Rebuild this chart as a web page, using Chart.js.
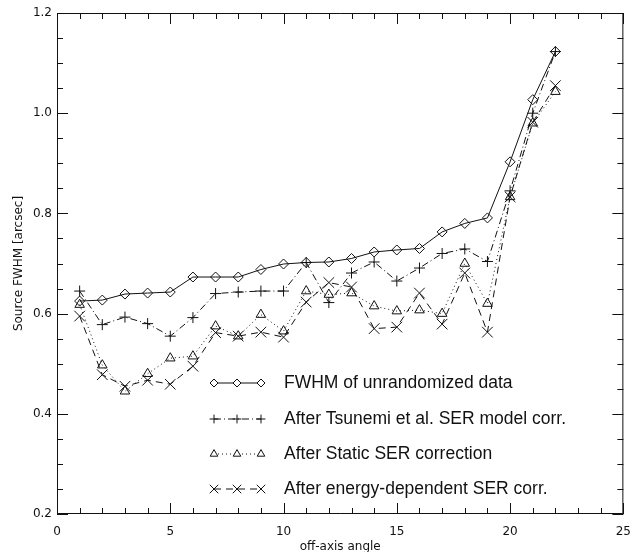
<!DOCTYPE html>
<html>
<head>
<meta charset="utf-8">
<script src="https://cdn.jsdelivr.net/npm/chart.js@4.4.1/dist/chart.umd.min.js"></script>
<style>
 html, body { margin: 0; padding: 0; background: #fff; }
 #fwhmChart { display: block; }
</style>
</head>
<body>
<canvas id="fwhmChart" width="642" height="552"></canvas>
<script>
// off-axis angle of each source
var angles = [1, 2, 3, 4, 5, 6, 7, 8, 9, 10, 11, 12, 13, 14, 15, 16, 17, 18, 19, 20, 21, 22];

// Source FWHM [arcsec] per method
var fwhmRaw = [0.625, 0.627, 0.639, 0.641, 0.643, 0.673, 0.673, 0.673, 0.688, 0.699, 0.702,
 0.703, 0.710, 0.723, 0.727, 0.730, 0.763, 0.780, 0.791, 0.903, 1.027, 1.123];
var fwhmTsunemi = [0.645, 0.578, 0.593, 0.580, 0.555, 0.592, 0.640, 0.643, 0.645, 0.645, 0.702,
 0.622, 0.681, 0.703, 0.665, 0.691, 0.720, 0.729, 0.704, 0.845, 1.000, 1.123];
var fwhmStatic = [0.618, 0.497, 0.445, 0.480, 0.511, 0.515, 0.575, 0.555, 0.598, 0.565, 0.645,
 0.638, 0.641, 0.615, 0.605, 0.607, 0.600, 0.700, 0.620, 0.833, 0.980, 1.043];
var fwhmEnergy = [0.595, 0.478, 0.455, 0.467, 0.459, 0.495, 0.562, 0.555, 0.563, 0.553, 0.623,
 0.662, 0.653, 0.570, 0.573, 0.641, 0.579, 0.681, 0.563, 0.833, 0.982, 1.055];

var seriesLabels = [
 "FWHM of unrandomized data",
 "After Tsunemi et al. SER model corr.",
 "After Static SER correction",
 "After energy-dependent SER corr.",
];

var xTickValues = [0, 5, 10, 15, 20, 25];
var yTickValues = [0.2, 0.4, 0.6, 0.8, 1.0, 1.2];

function toPoints(values) {
 return values.map(function (v, i) {
  return { x: angles[i], y: v };
 });
}

var ink = "#111";

var datasets = [
 { label: seriesLabels[0], data: toPoints(fwhmRaw), pointStyle: "rectRot", pointRadius: 5, borderDash: [] },
 { label: seriesLabels[1], data: toPoints(fwhmTsunemi), pointStyle: "cross", pointRadius: 5.5, borderDash: [7, 3, 1, 3] },
 { label: seriesLabels[2], data: toPoints(fwhmStatic), pointStyle: "triangle", pointRadius: 5.5, borderDash: [1, 3] },
 { label: seriesLabels[3], data: toPoints(fwhmEnergy), pointStyle: "crossRot", pointRadius: 7.5, borderDash: [7, 5] },
].map(function (d) {
 d.borderColor = ink;
 d.borderWidth = 1;
 d.pointBorderColor = ink;
 d.pointBackgroundColor = "rgba(0,0,0,0)";
 d.pointBorderWidth = 1;
 d.fill = false;
 d.tension = 0;
 return d;
});

// inward ticks on all four sides of the box
var boxTicks = {
 id: "boxTicks",
 afterDraw: function (chart) {
  var ctx = chart.ctx;
  var a = chart.chartArea;
  var xs = chart.scales.x;
  var ys = chart.scales.y;
  ctx.save();
  ctx.strokeStyle = ink;
  ctx.lineWidth = 1;
  ctx.beginPath();
  ctx.rect(a.left + 0.5, a.top + 0.5, a.right - a.left - 1, a.bottom - a.top - 1);
  for (var i = 0; i <= 25; i++) {
   var px = Math.round(xs.getPixelForValue(i)) + 0.5;
   var len = i % 5 === 0 ? 11 : 6;
   ctx.moveTo(px, a.bottom);
   ctx.lineTo(px, a.bottom - len);
   ctx.moveTo(px, a.top);
   ctx.lineTo(px, a.top + len);
  }
  for (var j = 0; j <= 20; j++) {
   var v = 0.2 + j * 0.05;
   var py = Math.round(ys.getPixelForValue(v)) + 0.5;
   var l2 = j % 4 === 0 ? 11 : 6;
   ctx.moveTo(a.left, py);
   ctx.lineTo(a.left + l2, py);
   ctx.moveTo(a.right, py);
   ctx.lineTo(a.right - l2, py);
  }
  ctx.stroke();
  ctx.restore();
 },
};

// legend inside the plot, three symbols per row like the IDL legend
var boxLegend = {
 id: "boxLegend",
 afterDatasetsDraw: function (chart) {
  var ctx = chart.ctx;
  var rowsY = [383, 419, 454, 489];
  var symX = [214, 237, 261];
  ctx.save();
  chart.data.datasets.forEach(function (ds, k) {
   var y = rowsY[k];
   ctx.strokeStyle = ink;
   ctx.lineWidth = 1;
   ctx.setLineDash(ds.borderDash);
   ctx.beginPath();
   ctx.moveTo(symX[0], y);
   ctx.lineTo(symX[2], y);
   ctx.stroke();
   ctx.setLineDash([]);
   symX.forEach(function (sx) {
    ctx.fillStyle = "#fff";
    Chart.helpers.drawPoint(ctx, { pointStyle: ds.pointStyle, radius: ds.pointRadius * 0.8, borderWidth: 1 }, sx, y);
   });
   ctx.fillStyle = ink;
   ctx.font = "17.5px 'Liberation Sans', Arial, sans-serif";
   ctx.textBaseline = "middle";
   ctx.fillText(ds.label, 284, y);
  });
  ctx.restore();
 },
};

var axisFont = { family: "'DejaVu Sans', sans-serif", size: 12 };
var titleFont = { family: "'DejaVu Sans', sans-serif", size: 12, lineHeight: 0.9 };

new Chart(document.getElementById("fwhmChart"), {
 type: "line",
 data: { datasets: datasets },
 options: {
  responsive: false,
  animation: false,
  layout: { padding: { top: 13, right: 6, left: 0, bottom: 0 } },
  plugins: { legend: { display: false }, tooltip: { enabled: false } },
  scales: {
   x: {
    type: "linear",
    min: 0,
    max: 25,
    afterBuildTicks: function (scale) {
     scale.ticks = xTickValues.map(function (v) { return { value: v }; });
    },
    afterFit: function (scale) { scale.height = 38; },
    grid: { display: false, drawTicks: false },
    border: { display: false },
    ticks: { color: ink, font: axisFont, padding: 11, maxRotation: 0 },
    title: { display: true, text: "off-axis angle", color: ink, font: titleFont, padding: { top: 0, bottom: 0 } },
   },
   y: {
    type: "linear",
    min: 0.2,
    max: 1.2,
    afterBuildTicks: function (scale) {
     scale.ticks = yTickValues.map(function (v) { return { value: v }; });
    },
    afterFit: function (scale) { scale.width = 57; },
    grid: { display: false, drawTicks: false },
    border: { display: false },
    ticks: {
     color: ink,
     font: axisFont,
     padding: 5,
     callback: function (v) { return Number(v).toFixed(1); },
    },
    title: { display: true, text: "Source FWHM [arcsec]", color: ink, font: axisFont, padding: { top: 12, bottom: 0 } },
   },
  },
 },
 plugins: [boxTicks, boxLegend],
});
</script>
</body>
</html>
